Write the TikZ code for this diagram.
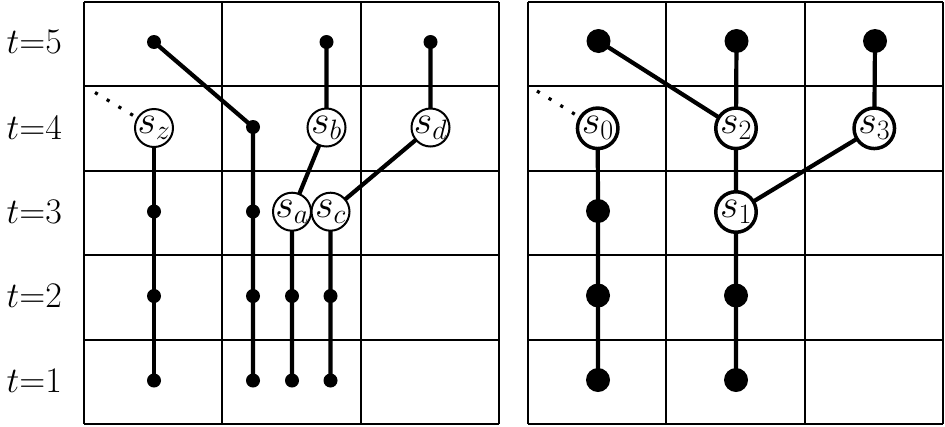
\RequirePackage{fix-cm}
\documentclass[tikz,border=0pt]{standalone}
\pgfdeclarelayer{bg}
\pgfsetlayers{bg,main}
\begin{document}
\begin{tikzpicture}[x=1pt,y=-1pt,
  gridline/.style={line width=2pt},
  conn/.style={line width=4.2pt},
  dotline/.style={line width=3.2pt,dash pattern=on 3.2pt off 10.5pt},
  sdot/.style={circle,fill=black,inner sep=0pt,minimum size=14pt},
  bdot/.style={circle,fill=black,inner sep=0pt,minimum size=24pt},
  nfont/.style={font=\fontsize{40}{44}\selectfont},
  snode/.style={circle,draw,line width=2pt,fill=white,inner sep=0pt,minimum size=38pt},
  bnode/.style={circle,draw,line width=3.5pt,fill=white,inner sep=0pt,minimum size=40.5pt},
  tlab/.style={anchor=east,inner sep=0pt,font=\fontsize{36}{40}\selectfont}
]
\useasboundingbox (0,0) rectangle (945,426);
% grids
\foreach \x in {84,222.33,360.67,499}{\draw[gridline] (\x,2) -- (\x,424);}
\foreach \y in {2,86.4,170.8,255.2,339.6,424}{\draw[gridline] (84,\y) -- (499,\y);}
\foreach \x in {528,666.33,804.67,943}{\draw[gridline] (\x,2) -- (\x,424);}
\foreach \y in {2,86.4,170.8,255.2,339.6,424}{\draw[gridline] (528,\y) -- (943,\y);}
% labels
\node[tlab] (l5) at (62,42) {$t{=}5$};
\node[tlab] (l4) at (62,127.7) {$t{=}4$};
\node[tlab] (l3) at (62,211.5) {$t{=}3$};
\node[tlab] (l2) at (62,296) {$t{=}2$};
\node[tlab] (l1) at (62,380.5) {$t{=}1$};
% left nodes
\node[sdot] (a5) at (154,42) {};
\node[snode,label={[nfont]center:$s_z$}] (sz) at (154,128) {};
\node[sdot] (a3) at (154,211.5) {};
\node[sdot] (a2) at (154,296) {};
\node[sdot] (a1) at (154,380.5) {};
\node[sdot] (b4) at (253,127) {};
\node[sdot] (b3) at (253,211.5) {};
\node[sdot] (b2) at (253,296) {};
\node[sdot] (b1) at (253,380.5) {};
\node[snode,label={[nfont]center:$s_a$}] (sa) at (292,211.7) {};
\node[sdot] (c2) at (292,296) {};
\node[sdot] (c1) at (292,380.5) {};
\node[snode,label={[nfont]center:$s_c$}] (sc) at (330.5,211.7) {};
\node[sdot] (d2) at (330.5,296) {};
\node[sdot] (d1) at (330.5,380.5) {};
\node[snode,label={[nfont]center:$s_b$}] (sb) at (326.5,127.5) {};
\node[sdot] (e5) at (326.5,42) {};
\node[snode,label={[nfont]center:$s_d$}] (sd) at (430.5,127.5) {};
\node[sdot] (f5) at (430.5,42) {};
\coordinate (dz) at (95,92.5);
% right nodes
\node[bdot] (g5) at (598.5,41) {};
\node[bnode,label={[nfont]center:$s_0$}] (s0) at (597.7,128.3) {};
\node[bdot] (g3) at (598,211) {};
\node[bdot] (g2) at (598,295.5) {};
\node[bdot] (g1) at (598,380) {};
\node[bdot] (h5) at (736.5,41) {};
\node[bnode,label={[nfont]center:$s_2$}] (s2) at (736,128.3) {};
\node[bnode,label={[nfont]center:$s_1$}] (s1) at (736,212) {};
\node[bdot] (h2) at (736,295.5) {};
\node[bdot] (h1) at (736,380) {};
\node[bdot] (i5) at (875,41) {};
\node[bnode,label={[nfont]center:$s_3$}] (s3) at (874.3,128.3) {};
\coordinate (d0) at (537,91);
% connectors
\begin{pgfonlayer}{bg}
\draw[conn] (a5.center) -- (b4.center) -- (b3.center) -- (b2.center) -- (b1.center);
\draw[conn] (sz.center) -- (a3.center) -- (a2.center) -- (a1.center);
\draw[conn] (e5.center) -- (sb.center) -- (sa.center) -- (c2.center) -- (c1.center);
\draw[conn] (f5.center) -- (sd.center) -- (sc.center) -- (d2.center) -- (d1.center);
\draw[conn] (g5.center) -- (s2.center);
\draw[conn] (h5.center) -- (s2.center) -- (s1.center) -- (h2.center) -- (h1.center);
\draw[conn] (i5.center) -- (s3.center) -- (s1.center);
\draw[conn] (s0.center) -- (g3.center) -- (g2.center) -- (g1.center);
\end{pgfonlayer}
\draw[dotline] (dz) -- (sz);
\draw[dotline] (d0) -- (s0);
\end{tikzpicture}
\end{document}
